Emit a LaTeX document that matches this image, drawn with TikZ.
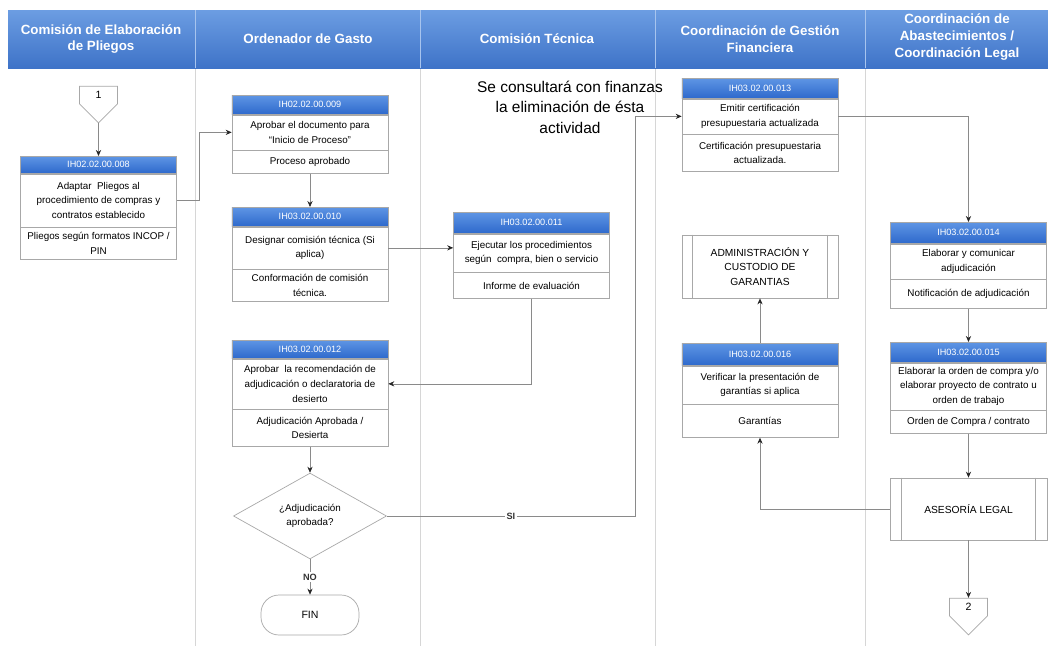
\documentclass[tikz,border=0pt]{standalone}
\usepackage{fontspec}
\setmainfont{Liberation Sans}
\usetikzlibrary{arrows.meta,positioning,shapes.geometric,shapes.symbols}
\definecolor{lanegrey}{HTML}{D6D6D6}
\definecolor{linegrey}{HTML}{8A8A8A}
\definecolor{boxgrey}{HTML}{A8A8A8}
\definecolor{bandtop}{HTML}{6C9DE2}
\definecolor{bandbot}{HTML}{3E73C8}
\definecolor{idtop}{HTML}{5E95E4}
\definecolor{idbot}{HTML}{2E69CC}

\begin{document}
\begin{tikzpicture}[x=0.025cm, y=-0.025cm,
  every node/.style={align=center, inner sep=1pt},
  lane/.style={line width=0.6pt, lanegrey},
  title/.style={text=white, font=\fontsize{9.5}{12}\selectfont\bfseries},
  idbar/.style={draw=boxgrey, line width=0.4pt, top color=idtop, bottom color=idbot,
    text=white, font=\fontsize{6.5}{8}\selectfont, minimum width=3.9cm, anchor=north},
  actdesc/.style={draw=boxgrey, line width=0.4pt, fill=white,
    font=\fontsize{7}{10.5}\selectfont, minimum width=3.9cm},
  actout/.style={draw=boxgrey, line width=0.4pt, fill=white,
    font=\fontsize{7}{10.5}\selectfont, minimum width=3.9cm},
  subproc/.style={draw=boxgrey, line width=0.5pt, fill=white,
    font=\fontsize{7.3}{10.5}\selectfont, minimum width=3.9cm},
  decision/.style={diamond, draw=boxgrey, line width=0.5pt, fill=white, inner sep=0pt,
    font=\fontsize{7}{10.5}\selectfont, minimum width=38.25mm, minimum height=20.5mm},
  terminal/.style={draw=boxgrey, line width=0.5pt, fill=white, rounded corners=4.5mm,
    font=\fontsize{7.5}{10}\selectfont, minimum width=24.5mm, minimum height=10mm},
  offpage/.style={signal, signal to=south, draw=boxgrey, line width=0.5pt, fill=white,
    font=\fontsize{7.5}{10}\selectfont, minimum width=9.5mm, minimum height=5.5mm},
  flow/.style={-{Stealth[length=1.5mm, width=1.3mm, color=black!85]}, line width=0.5pt, linegrey},
  flowlabel/.style={fill=white, font=\fontsize{6.5}{8}\selectfont\bfseries, text=black!80}
]
\useasboundingbox (0,0) rectangle (1048,646);

%% Lanes and header band
\foreach \x in {195,420,655,865}
  \draw[lane] (\x,68) -- (\x,646);
\shade[top color=bandtop, bottom color=bandbot] (8,10) rectangle (1048,68);
\foreach \x in {195,420,655,865}
  \draw[line width=0.5pt, bandtop!60!white] (\x,10) -- (\x,68);

\node[title] (lane1) at (101,39) {Comisión de Elaboración\\de Pliegos};
\node[title] (lane2) at (308,39) {Ordenador de Gasto};
\node[title] (lane3) at (537,39) {Comisión Técnica};
\node[title] (lane4) at (760,39) {Coordinación de Gestión\\Financiera};
\node[title] (lane5) at (957,37) {Coordinación de\\Abastecimientos /\\Coordinación Legal};

%% Lane 1
\node[offpage] (con1) at (98.5,95) {1};

\node[idbar, minimum height=4.25mm] (id008) at (98.5,156) {IH02.02.00.008};
\node[actdesc, minimum height=13.25mm, below=0pt of id008] (act008)
  {Adaptar\ \ Pliegos al\\procedimiento de compras y\\contratos establecido};
\node[actout, minimum height=8mm, below=0pt of act008] (out008)
  {Pliegos según formatos INCOP /\\PIN};

%% Lane 2
\node[idbar, minimum height=4.75mm] (id009) at (310,95) {IH02.02.00.009};
\node[actdesc, minimum height=8.75mm, below=0pt of id009] (act009)
  {Aprobar el documento para\\“Inicio de Proceso”};
\node[actout, minimum height=5.75mm, below=0pt of act009] (out009) {Proceso aprobado};

\node[idbar, minimum height=4.75mm] (id010) at (310,207) {IH03.02.00.010};
\node[actdesc, minimum height=10.5mm, below=0pt of id010] (act010)
  {Designar comisión técnica (Si\\aplica)};
\node[actout, minimum height=8mm, below=0pt of act010] (out010)
  {Conformación de comisión\\técnica.};

\node[idbar, minimum height=4.5mm] (id012) at (310,340) {IH03.02.00.012};
\node[actdesc, minimum height=12.5mm, below=0pt of id012] (act012)
  {Aprobar\ \ la recomendación de\\adjudicación o declaratoria de\\desierto};
\node[actout, minimum height=9.25mm, below=0pt of act012] (out012)
  {Adjudicación Aprobada /\\Desierta};

\node[decision] (dec) at (310,516) {¿Adjudicación\\aprobada?};
\node[terminal] (fin) at (310,615) {FIN};

%% Lane 3
\node[font=\fontsize{11}{14.5}\selectfont] (note) at (570,107)
  {Se consultará con finanzas\\la eliminación de ésta\\actividad};

\node[idbar, minimum height=5.25mm] (id011) at (531.5,212) {IH03.02.00.011};
\node[actdesc, minimum height=9.5mm, below=0pt of id011] (act011)
  {Ejecutar los procedimientos\\según\ \ compra, bien o servicio};
\node[actout, minimum height=6.5mm, below=0pt of act011] (out011) {Informe de evaluación};

%% Lane 4
\node[idbar, minimum height=5mm] (id013) at (760,78) {IH03.02.00.013};
\node[actdesc, minimum height=8.75mm, below=0pt of id013] (act013)
  {Emitir certificación\\presupuestaria actualizada};
\node[actout, minimum height=9.25mm, below=0pt of act013] (out013)
  {Certificación presupuestaria\\actualizada.};

\node[subproc, minimum height=15.75mm] (adm) at (760,266.5)
  {ADMINISTRACIÓN Y\\CUSTODIO DE\\GARANTIAS};
\draw[boxgrey, line width=0.5pt] ([xshift=2.75mm]adm.north west) -- ([xshift=2.75mm]adm.south west);
\draw[boxgrey, line width=0.5pt] ([xshift=-2.75mm]adm.north east) -- ([xshift=-2.75mm]adm.south east);

\node[idbar, minimum height=5.5mm] (id016) at (760,343) {IH03.02.00.016};
\node[actdesc, minimum height=9.5mm, below=0pt of id016] (act016)
  {Verificar la presentación de\\garantías si aplica};
\node[actout, minimum height=8.25mm, below=0pt of act016] (out016) {Garantías};

%% Lane 5
\node[idbar, minimum height=5.25mm] (id014) at (968.5,222) {IH03.02.00.014};
\node[actdesc, minimum height=8.75mm, below=0pt of id014] (act014)
  {Elaborar y comunicar\\adjudicación};
\node[actout, minimum height=7.25mm, below=0pt of act014] (out014)
  {Notificación de adjudicación};

\node[idbar, minimum height=5mm] (id015) at (968.5,342) {IH03.02.00.015};
\node[actdesc, minimum height=11.75mm, below=0pt of id015] (act015)
  {Elaborar la orden de compra y/o\\elaborar proyecto de contrato u\\orden de trabajo};
\node[actout, minimum height=5.75mm, below=0pt of act015] (out015)
  {Orden de Compra / contrato};

\node[subproc, minimum width=39.25mm, minimum height=15.5mm] (ases) at (968.5,509) {ASESORÍA LEGAL};
\draw[boxgrey, line width=0.5pt] ([xshift=3mm]ases.north west) -- ([xshift=3mm]ases.south west);
\draw[boxgrey, line width=0.5pt] ([xshift=-3mm]ases.north east) -- ([xshift=-3mm]ases.south east);

\node[offpage] (con2) at (968.5,607) {2};

%% Connectors
\draw[flow] (con1.south) -- (id008.north);
\draw[flow] (act008.east) -- ++(23,0) |- (act009.west);
\draw[flow] (out009.south) -- (id010.north);
\draw[flow] (act010.east) -- (act010.east -| act011.west);
\draw[flow] (out011.south) |- (act012.east);
\draw[flow] (out012.south) -- (dec.north);
\draw[flow] (dec.south) -- node[flowlabel] {NO} (fin.north);
\draw[flow] (dec.east) -- node[flowlabel] {SI} ++(248,0) |- (act013.west);
\draw[flow] (act013.east) -| (id014.north);
\draw[flow] (out014.south) -- (id015.north);
\draw[flow] (out015.south) -- (ases.north);
\draw[flow] (ases.west) -| (out016.south);
\draw[flow] (id016.north) -- (adm.south);
\draw[flow] (ases.south) -- (con2.north);

\end{tikzpicture}
\end{document}
